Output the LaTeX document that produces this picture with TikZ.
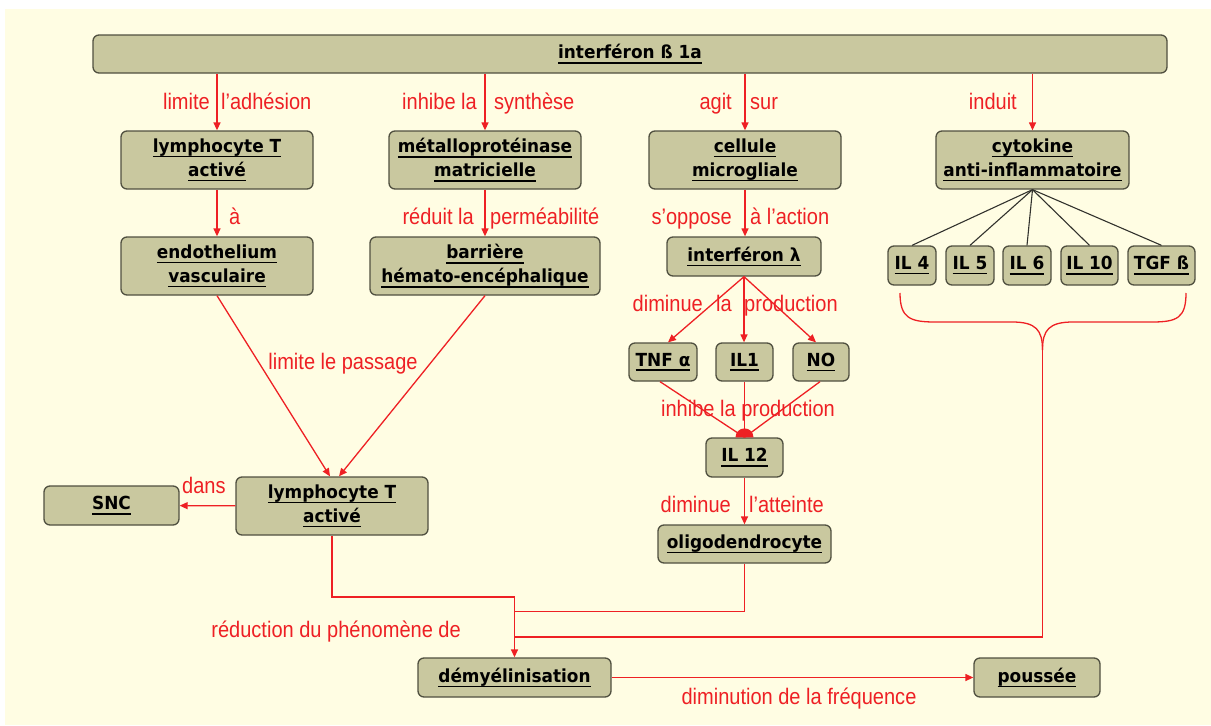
\documentclass[tikz,border=0pt]{standalone}
\usepackage{fontspec}
\setmainfont{Liberation Sans}
\newfontfamily\boxfont{DejaVu Sans}[FakeStretch=0.94]
\newfontfamily\lblfont{Liberation Sans}[FakeStretch=0.89]
\usetikzlibrary{arrows.meta}
\definecolor{bgcream}{RGB}{255,253,227}
\definecolor{boxfill}{RGB}{201,200,159}
\definecolor{boxedge}{RGB}{80,80,64}
\definecolor{rd}{RGB}{238,32,36}
\definecolor{dk}{RGB}{50,50,45}
\newcommand\ulx[1]{\setbox0=\hbox{#1}\leavevmode\rlap{\rule[-4.8pt]{\wd0}{1.5pt}}\box0}
\tikzset{
  bx/.style={draw=boxedge, fill=boxfill, rounded corners=6pt, line width=1.3pt,
    font=\boxfont\bfseries\fontsize{18}{24}\selectfont, align=center, inner sep=0pt},
  lbl/.style={text=rd, font=\lblfont\fontsize{22.5}{26}\selectfont, inner sep=0pt},
  rline/.style={draw=rd, line width=1.3pt},
  rarrow/.style={rline, -{Triangle[length=8pt,width=7pt]}},
  kline/.style={draw=dk, line width=1.1pt}
}
\begin{document}
\begin{tikzpicture}[x=1pt,y=-1pt]
\useasboundingbox (0,0) rectangle (1211,726);
\fill[white] (0,0) rectangle (1211,726);
\fill[bgcream] (5,9) rectangle (1211,725);

% nodes
\node[bx, minimum width=1074pt, minimum height=38pt] (top) at (630,54) {\ulx{interféron ß 1a}};
\node[bx, minimum width=192pt, minimum height=58pt] (lymA) at (217,160) {\ulx{lymphocyte T}\\\ulx{activé}};
\node[bx, minimum width=192pt, minimum height=58pt] (metal) at (485,160) {\ulx{métalloprotéinase}\\\ulx{matricielle}};
\node[bx, minimum width=192pt, minimum height=58pt] (cell) at (745,160) {\ulx{cellule}\\\ulx{microgliale}};
\node[bx, minimum width=193pt, minimum height=58pt] (cyto) at (1032.5,160) {\ulx{cytokine}\\\ulx{anti-inflammatoire}};
\node[bx, minimum width=192pt, minimum height=58pt] (endo) at (217,266) {\ulx{endothelium}\\\ulx{vasculaire}};
\node[bx, minimum width=230pt, minimum height=58pt] (barr) at (485,266) {\ulx{barrière}\\\ulx{hémato-encéphalique}};
\node[bx, minimum width=154pt, minimum height=39pt] (ifl) at (744,256.5) {\ulx{interféron λ}};
\node[bx, minimum width=48pt, minimum height=39pt] (il4) at (912,265.5) {\ulx{IL 4}};
\node[bx, minimum width=48pt, minimum height=39pt] (il5) at (970,265.5) {\ulx{IL 5}};
\node[bx, minimum width=48pt, minimum height=39pt] (il6) at (1027,265.5) {\ulx{IL 6}};
\node[bx, minimum width=57pt, minimum height=39pt] (il10) at (1089.5,265.5) {\ulx{IL 10}};
\node[bx, minimum width=67pt, minimum height=39pt] (tgf) at (1161.5,265.5) {\ulx{TGF ß}};
\node[bx, minimum width=68pt, minimum height=38pt] (tnf) at (663,362) {\ulx{TNF α}};
\node[bx, minimum width=57pt, minimum height=38pt] (il1) at (744.5,362) {\ulx{IL1}};
\node[bx, minimum width=56pt, minimum height=38pt] (no) at (821,362) {\ulx{NO}};
\node[bx, minimum width=77pt, minimum height=39pt] (il12) at (744.5,457.5) {\ulx{IL 12}};
\node[bx, minimum width=173pt, minimum height=38pt] (oligo) at (744.5,544) {\ulx{oligodendrocyte}};
\node[bx, minimum width=192pt, minimum height=58pt] (lymB) at (332,506) {\ulx{lymphocyte T}\\\ulx{activé}};
\node[bx, minimum width=135pt, minimum height=39pt] (snc) at (111.5,505.5) {\ulx{SNC}};
\node[bx, minimum width=193pt, minimum height=39pt] (demy) at (514.5,677.5) {\ulx{démyélinisation}};
\node[bx, minimum width=126pt, minimum height=39pt] (pous) at (1037,677.5) {\ulx{poussée}};

% top arrows
\draw[rarrow] (top.south -| lymA.north) -- (lymA.north);
\draw[rarrow] (top.south -| metal.north) -- (metal.north);
\draw[rarrow] (top.south -| cell.north) -- (cell.north);
\draw[rarrow] (top.south -| cyto.north) -- (cyto.north);
% second row
\draw[rarrow] (lymA) -- (endo);
\draw[rarrow] (metal) -- (barr);
\draw[rarrow] (cell.south) -- (cell.south |- ifl.north);
% cytokine fan
\foreach \n in {il4,il5,il6,il10,tgf}{\draw[kline] (cyto.south) -- (\n.north);}
% interferon lambda
\draw[rarrow] (ifl.south) -- ([xshift=5pt]tnf.north);
\draw[rarrow] (ifl.south) -- (ifl.south |- il1.north);
\draw[rarrow] (ifl.south) -- ([xshift=-5pt]no.north);
% inhibition of IL12
\draw[rline] ([xshift=-3pt]tnf.south) -- (il12.north);
\draw[rline] (il1.south) -- (il12.north);
\draw[rline] ([xshift=-1pt]no.south) -- (il12.north);
\fill[rd] ([xshift=-9pt]il12.north) arc[start angle=180,end angle=0,radius=9pt] -- cycle;
\draw[rarrow] (il12) -- (oligo);
% passage
\draw[rarrow] (endo.south) -- ([xshift=-2pt]lymB.north);
\draw[rarrow] (barr.south) -- ([xshift=7pt]lymB.north);
\draw[rarrow] (lymB) -- (snc);
% brace
\coordinate (btip) at (1042.5,350);
\draw[rline] (900,293) .. controls (900,318) and (910,322) .. (935,322) -- (1012,322)
   .. controls (1036,322) and (1042.5,330) .. (btip);
\draw[rline] (btip) .. controls (1042.5,330) and (1049,322) .. (1073,322) -- (1152,322)
   .. controls (1177,322) and (1186,318) .. (1186,293);
% merging lines
\coordinate (m1) at (514.5,597);
\draw[rline] (lymB.south) |- (m1);
\draw[rline] (oligo.south) |- (514.5,611.5);
\draw[rline] (btip) |- (514.5,637);
\draw[rarrow] (m1) -- (demy.north);
\draw[rarrow] (demy) -- (pous);

% labels
\node[lbl, anchor=base east] at (210,109.5) {limite};
\node[lbl, anchor=base west] at (221,109.5) {l’adhésion};
\node[lbl, anchor=base east] at (477,109.5) {inhibe la};
\node[lbl, anchor=base west] at (494,109.5) {synthèse};
\node[lbl, anchor=base east] at (732,109.5) {agit};
\node[lbl, anchor=base west] at (750,109.5) {sur};
\node[lbl, anchor=base east] at (1017,109.5) {induit};
\node[lbl, anchor=base west] at (229,224.5) {à};
\node[lbl, anchor=base east] at (474,224.5) {réduit la};
\node[lbl, anchor=base west] at (490,224.5) {perméabilité};
\node[lbl, anchor=base east] at (732,224.5) {s’oppose};
\node[lbl, anchor=base west] at (750,224.5) {à l’action};
\node[lbl, anchor=base east] at (703,311.5) {diminue};
\node[lbl, anchor=base] at (724,311.5) {la};
\node[lbl, anchor=base west] at (744,311.5) {production};
\node[lbl, anchor=base] at (748,416.5) {inhibe la production};
\node[lbl, anchor=base east] at (731,512.5) {diminue};
\node[lbl, anchor=base west] at (749,512.5) {l’atteinte};
\node[lbl, anchor=base] at (343,369.5) {limite le passage};
\node[lbl, anchor=base west] at (182,493.5) {dans};
\node[lbl, anchor=base east] at (461,637.5) {réduction du phénomène de};
\node[lbl, anchor=base] at (799,704.5) {diminution de la fréquence};
\end{tikzpicture}
\end{document}
